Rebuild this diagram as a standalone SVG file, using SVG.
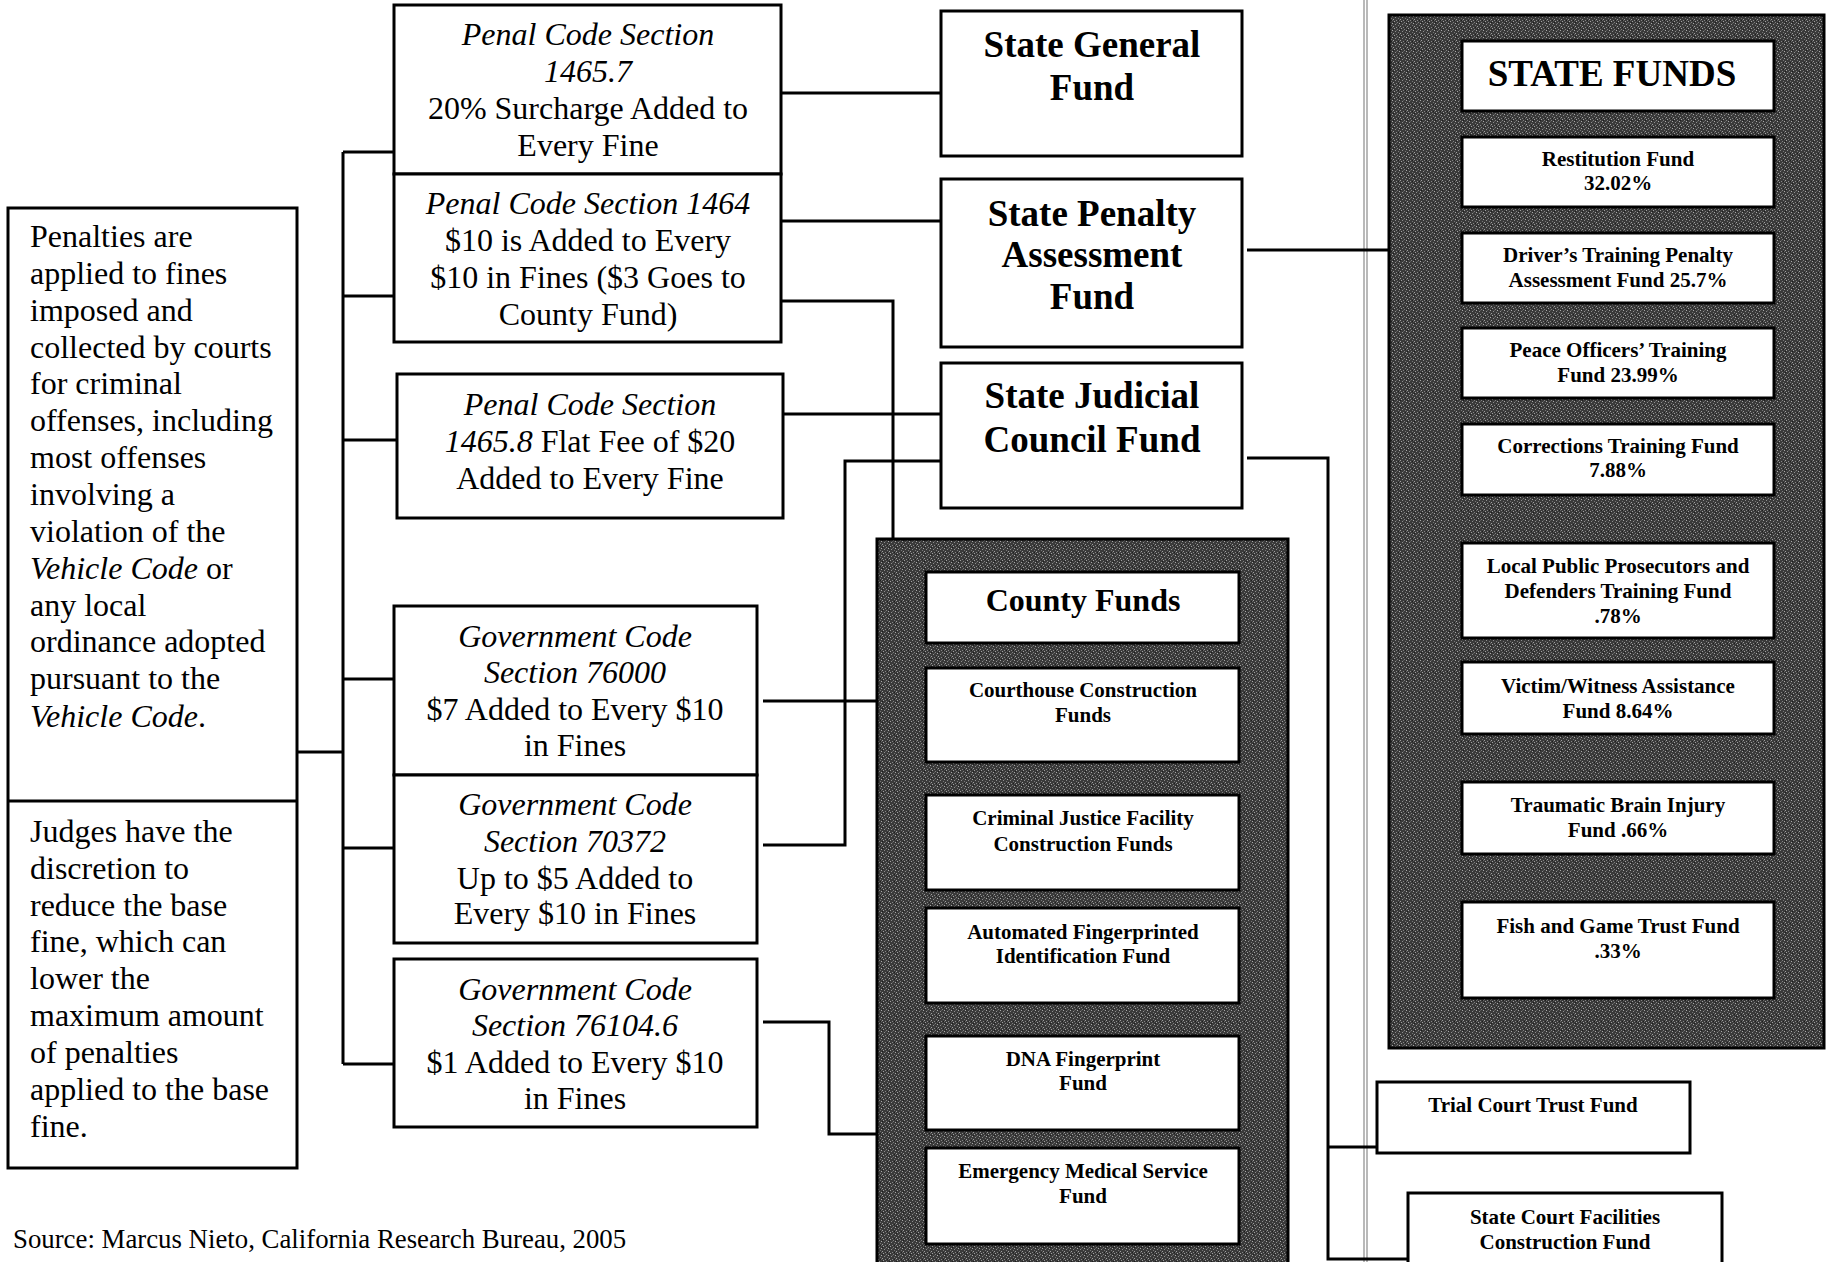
<svg xmlns="http://www.w3.org/2000/svg" width="1830" height="1262" viewBox="0 0 1830 1262">
<defs>
<pattern id="tex" width="7" height="7" patternUnits="userSpaceOnUse">
<rect width="7" height="7" fill="#3a3a3a"/>
<rect x="1" y="0" width="1" height="1" fill="#a0a0a0"/>
<rect x="4" y="1" width="1" height="1" fill="#808080"/>
<rect x="6" y="2" width="1" height="1" fill="#aaa"/>
<rect x="2" y="3" width="1" height="1" fill="#8e8e8e"/>
<rect x="5" y="4" width="1" height="1" fill="#767676"/>
<rect x="0" y="5" width="1" height="1" fill="#a0a0a0"/>
<rect x="3" y="6" width="1" height="1" fill="#868686"/>
<rect x="6" y="6" width="1" height="1" fill="#666"/>
<rect x="3" y="2" width="1" height="1" fill="#5a5a5a"/>
<rect x="0" y="1" width="1" height="1" fill="#1e1e1e"/>
<rect x="5" y="6" width="1" height="1" fill="#1e1e1e"/>
</pattern>
<style>
.box{fill:#fff;stroke:#000;stroke-width:3}
.panel{fill:url(#tex);stroke:#000;stroke-width:3}
.conn{fill:none;stroke:#000;stroke-width:3}
.thin{fill:none;stroke:#8a8a8a;stroke-width:1.2}
text{font-family:"Liberation Serif","Times New Roman",serif;fill:#000}
.t{font-size:32px}
.c{text-anchor:middle}
.i{font-style:italic}
.big{font-weight:bold;font-size:37px}
.mid{font-weight:bold;font-size:32px}
.sm{font-weight:bold;font-size:21px}
.src{font-size:26.8px}
</style>
</defs>
<rect width="1830" height="1262" fill="#fff"/>

<g id="divider">
<line class="thin" x1="1364" y1="0" x2="1364" y2="1262"/>
<line class="thin" x1="1367" y1="0" x2="1367" y2="1262"/>
</g>

<g id="connectors">
<path class="conn" d="M343 152V1064"/>
<path class="conn" d="M343 152H394M343 296H394M343 440H397M343 679H394M343 848H394M343 1064H394"/>
<path class="conn" d="M297 752H343"/>
<path class="conn" d="M781 93H941"/>
<path class="conn" d="M781 221H941"/>
<path class="conn" d="M781 301H893V539"/>
<path class="conn" d="M783 414H941"/>
<path class="conn" d="M763 845H845V461H941"/>
<path class="conn" d="M763 701H877"/>
<path class="conn" d="M763 1022H829V1134H877"/>
<path class="conn" d="M1247 250H1389"/>
<path class="conn" d="M1247 458H1328V1259H1408"/>
<path class="conn" d="M1328 1147H1377"/>
</g>

<g id="left-box">
<rect class="box" x="8" y="208" width="289" height="960"/>
<line class="conn" x1="8" y1="801" x2="297" y2="801"/>
<text class="t" x="30" y="247">Penalties are</text>
<text class="t" x="30" y="284">applied to fines</text>
<text class="t" x="30" y="321">imposed and</text>
<text class="t" x="30" y="358">collected by courts</text>
<text class="t" x="30" y="394">for criminal</text>
<text class="t" x="30" y="431">offenses, including</text>
<text class="t" x="30" y="468">most offenses</text>
<text class="t" x="30" y="505">involving a</text>
<text class="t" x="30" y="542">violation of the</text>
<text class="t" x="30" y="579"><tspan class="i">Vehicle Code</tspan> or</text>
<text class="t" x="30" y="616">any local</text>
<text class="t" x="30" y="652">ordinance adopted</text>
<text class="t" x="30" y="689">pursuant to the</text>
<text class="t" x="30" y="727"><tspan class="i">Vehicle Code</tspan>.</text>
<text class="t" x="30" y="842">Judges have the</text>
<text class="t" x="30" y="879">discretion to</text>
<text class="t" x="30" y="916">reduce the base</text>
<text class="t" x="30" y="952">fine, which can</text>
<text class="t" x="30" y="989">lower the</text>
<text class="t" x="30" y="1026">maximum amount</text>
<text class="t" x="30" y="1063">of penalties</text>
<text class="t" x="30" y="1100">applied to the base</text>
<text class="t" x="30" y="1137">fine.</text>
</g>

<g id="penal-1465-7">
<rect class="box" x="394" y="5" width="387" height="169"/>
<text class="t c i" x="588" y="45">Penal Code Section</text>
<text class="t c i" x="588" y="82">1465.7</text>
<text class="t c" x="588" y="119">20% Surcharge Added to</text>
<text class="t c" x="588" y="156">Every Fine</text>
</g>

<g id="penal-1464">
<rect class="box" x="394" y="174" width="387" height="168"/>
<text class="t c i" x="588" y="214">Penal Code Section 1464</text>
<text class="t c" x="588" y="251">$10 is Added to Every</text>
<text class="t c" x="588" y="288">$10 in Fines ($3 Goes to</text>
<text class="t c" x="588" y="325">County Fund)</text>
</g>

<g id="penal-1465-8">
<rect class="box" x="397" y="374" width="386" height="144"/>
<text class="t c i" x="590" y="415">Penal Code Section</text>
<text class="t c" x="590" y="452"><tspan class="i">1465.8</tspan> Flat Fee of $20</text>
<text class="t c" x="590" y="489">Added to Every Fine</text>
</g>

<g id="gov-76000">
<rect class="box" x="394" y="606" width="363" height="169"/>
<text class="t c i" x="575" y="647">Government Code</text>
<text class="t c i" x="575" y="683">Section 76000</text>
<text class="t c" x="575" y="720">$7 Added to Every $10</text>
<text class="t c" x="575" y="756">in Fines</text>
</g>

<g id="gov-70372">
<rect class="box" x="394" y="775" width="363" height="168"/>
<text class="t c i" x="575" y="815">Government Code</text>
<text class="t c i" x="575" y="852">Section 70372</text>
<text class="t c" x="575" y="889">Up to $5 Added to</text>
<text class="t c" x="575" y="924">Every $10 in Fines</text>
</g>

<g id="gov-76104-6">
<rect class="box" x="394" y="959" width="363" height="168"/>
<text class="t c i" x="575" y="1000">Government Code</text>
<text class="t c i" x="575" y="1036">Section 76104.6</text>
<text class="t c" x="575" y="1073">$1 Added to Every $10</text>
<text class="t c" x="575" y="1109">in Fines</text>
</g>

<g id="state-general-fund">
<rect class="box" x="941" y="11" width="301" height="145"/>
<text class="big c" x="1092" y="57">State General</text>
<text class="big c" x="1092" y="100">Fund</text>
</g>

<g id="state-penalty-fund">
<rect class="box" x="941" y="179" width="301" height="168"/>
<text class="big c" x="1092" y="226">State Penalty</text>
<text class="big c" x="1092" y="267">Assessment</text>
<text class="big c" x="1092" y="309">Fund</text>
</g>

<g id="state-judicial-fund">
<rect class="box" x="941" y="363" width="301" height="145"/>
<text class="big c" x="1092" y="408">State Judicial</text>
<text class="big c" x="1092" y="452">Council Fund</text>
</g>

<g id="county-funds">
<rect class="panel" x="877" y="539" width="411" height="740"/>
<rect class="box" x="926" y="572" width="313" height="71"/>
<text class="mid c" x="1083" y="611">County Funds</text>
<rect class="box" x="926" y="668" width="313" height="94"/>
<text class="sm c" x="1083" y="697">Courthouse Construction</text>
<text class="sm c" x="1083" y="722">Funds</text>
<rect class="box" x="926" y="795" width="313" height="95"/>
<text class="sm c" x="1083" y="825">Criminal Justice Facility</text>
<text class="sm c" x="1083" y="851">Construction Funds</text>
<rect class="box" x="926" y="908" width="313" height="95"/>
<text class="sm c" x="1083" y="939">Automated Fingerprinted</text>
<text class="sm c" x="1083" y="963">Identification Fund</text>
<rect class="box" x="926" y="1036" width="313" height="94"/>
<text class="sm c" x="1083" y="1066">DNA Fingerprint</text>
<text class="sm c" x="1083" y="1090">Fund</text>
<rect class="box" x="926" y="1148" width="313" height="96"/>
<text class="sm c" x="1083" y="1178">Emergency Medical Service</text>
<text class="sm c" x="1083" y="1203">Fund</text>
</g>

<g id="state-funds">
<rect class="panel" x="1389" y="15" width="435" height="1033"/>
<rect class="box" x="1462" y="41" width="312" height="70"/>
<text class="big c" x="1612" y="86">STATE FUNDS</text>
<rect class="box" x="1462" y="137" width="312" height="70"/>
<text class="sm c" x="1618" y="166">Restitution Fund</text>
<text class="sm c" x="1618" y="190">32.02%</text>
<rect class="box" x="1462" y="233" width="312" height="70"/>
<text class="sm c" x="1618" y="262">Driver’s Training Penalty</text>
<text class="sm c" x="1618" y="287">Assessment Fund 25.7%</text>
<rect class="box" x="1462" y="328" width="312" height="70"/>
<text class="sm c" x="1618" y="357">Peace Officers’ Training</text>
<text class="sm c" x="1618" y="382">Fund 23.99%</text>
<rect class="box" x="1462" y="424" width="312" height="71"/>
<text class="sm c" x="1618" y="453">Corrections Training Fund</text>
<text class="sm c" x="1618" y="477">7.88%</text>
<rect class="box" x="1462" y="543" width="312" height="95"/>
<text class="sm c" x="1618" y="573">Local Public Prosecutors and</text>
<text class="sm c" x="1618" y="598">Defenders Training Fund</text>
<text class="sm c" x="1618" y="623">.78%</text>
<rect class="box" x="1462" y="662" width="312" height="72"/>
<text class="sm c" x="1618" y="693">Victim/Witness Assistance</text>
<text class="sm c" x="1618" y="718">Fund 8.64%</text>
<rect class="box" x="1462" y="782" width="312" height="72"/>
<text class="sm c" x="1618" y="812">Traumatic Brain Injury</text>
<text class="sm c" x="1618" y="837">Fund .66%</text>
<rect class="box" x="1462" y="902" width="312" height="96"/>
<text class="sm c" x="1618" y="933">Fish and Game Trust Fund</text>
<text class="sm c" x="1618" y="958">.33%</text>
</g>

<g id="trial-court-trust-fund">
<rect class="box" x="1377" y="1082" width="313" height="71"/>
<text class="sm c" x="1533" y="1112">Trial Court Trust Fund</text>
</g>

<g id="state-court-facilities">
<rect class="box" x="1408" y="1193" width="314" height="90"/>
<text class="sm c" x="1565" y="1224">State Court Facilities</text>
<text class="sm c" x="1565" y="1249">Construction Fund</text>
</g>

<text class="src" x="13" y="1248">Source: Marcus Nieto, California Research Bureau, 2005</text>
</svg>
